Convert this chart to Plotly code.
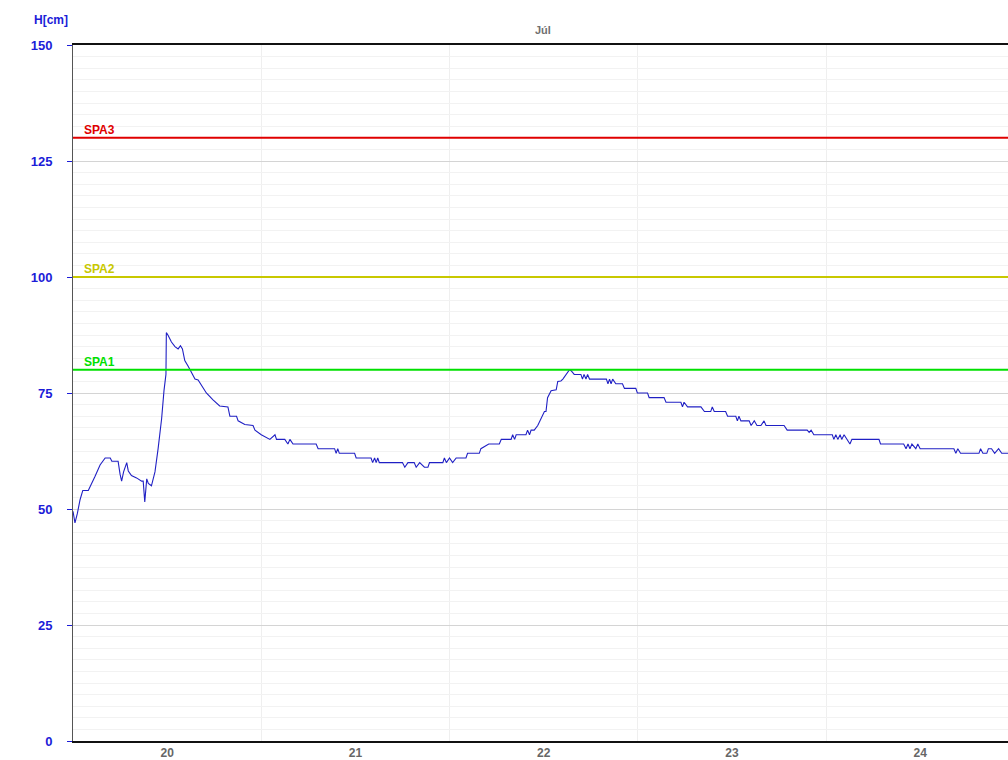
import plotly.graph_objects as go

# Water level, hours counted from 20 July 00:00
hours = [
    0.0, 0.25, 0.55, 0.9, 1.25, 1.95, 2.8, 3.45, 4.1, 4.75, 4.95, 5.75, 6.0, 6.2, 6.45,
    6.85, 7.05, 7.45, 8.1, 8.75, 8.95, 9.15, 9.4, 9.6, 10.0, 10.45, 10.85, 11.3, 11.6,
    11.85, 11.9, 12.1, 12.55, 13.0, 13.4, 13.7, 13.95, 14.25, 14.7, 15.1, 15.55, 15.95,
    16.4, 17.0, 17.85, 18.7, 19.75, 20.0, 20.85, 21.05, 21.9, 22.95, 23.2, 24.0, 25.1,
    25.75, 25.95, 27.0, 27.4, 27.65, 28.05, 31.0, 31.25, 33.35, 33.55, 33.75, 33.95,
    35.9, 36.1, 38.0, 38.2, 38.45, 38.65, 38.85, 39.05, 42.0, 42.3, 42.7, 43.5, 43.75,
    44.2, 44.8, 45.25, 45.45, 47.15, 47.35, 47.6, 48.0, 48.4, 48.85, 50.1, 50.3, 51.8,
    52.0, 53.0, 54.35, 54.6, 55.85, 56.05, 56.3, 56.5, 57.75, 57.95, 58.2, 58.4, 58.8,
    59.25, 59.65, 60.1, 60.3, 60.5, 60.95, 61.6, 61.8, 62.2, 62.45, 62.85, 63.3, 63.5,
    63.9, 64.75, 64.95, 65.15, 65.4, 65.6, 65.85, 68.0, 68.2, 68.4, 68.6, 68.8, 69.2,
    70.05, 70.3, 71.75, 71.95, 73.25, 73.45, 75.35, 75.6, 77.5, 77.7, 77.9, 78.35,
    80.05, 80.5, 81.3, 81.5, 81.75, 83.2, 83.45, 84.5, 84.7, 84.9, 85.15, 86.2, 86.45,
    86.85, 87.2, 87.7, 88.1, 88.35, 90.65, 91.05, 93.6, 93.85, 94.1, 94.45, 96.8, 97.0,
    97.25, 97.5, 97.8, 98.0, 98.3, 98.7, 99.05, 99.3, 102.75, 102.95, 105.9, 106.2,
    106.45, 106.7, 106.95, 107.45, 107.7, 108.0, 109.75, 112.3, 112.55, 112.8, 113.15,
    115.5, 115.7, 116.0, 116.5, 116.7, 117.1, 117.5, 118.0, 118.4, 119.2,
]
level_cm = [
    49.5, 47, 49, 52, 54, 54, 57, 59.5, 61, 61, 60.3, 60.3, 57.5, 56, 58,
    60, 58.2, 57.2, 56.7, 56, 56, 51.5, 56.5, 55.5, 55, 58, 63, 69.5, 75.5,
    79, 88, 87.5, 86, 85, 84.5, 85.2, 84.5, 82, 80.7, 79.3, 78, 77.8,
    76.5, 75, 73.5, 72.2, 72, 70, 70, 69, 68.2, 68, 67, 66, 65,
    66, 65, 65, 64, 65, 64, 64, 63, 63, 62, 63, 62,
    62, 61, 61, 60, 61, 60, 61, 60, 60, 59, 60, 60, 59,
    60, 59, 59, 60, 60, 61, 60, 61, 60, 61, 61, 62, 62,
    63, 64, 64, 65, 65, 66, 65, 66, 66, 67, 66, 67, 67,
    68, 69.5, 71, 71, 74, 75.5, 75.7, 77.5, 77.6, 78, 79, 80, 79.8,
    79, 79, 78, 79, 78, 79, 78, 78, 77, 78, 77, 78, 77,
    77, 76, 76, 75, 75, 74, 74, 73, 73, 72, 73, 72,
    72, 71, 71, 72, 71, 71, 70, 70, 69, 70, 69, 69, 68,
    69, 68, 68, 69, 68, 68, 67, 67, 66.5, 67, 66, 66, 65,
    66, 65, 66, 65, 66, 65, 64, 65, 65, 64, 64, 63,
    64, 63, 64, 63, 64, 63, 63, 63, 62, 63, 62,
    62, 63, 62, 62, 63, 63, 62, 63, 62, 62,
]

# Alert levels
spa_names = ["SPA1", "SPA2", "SPA3"]
spa_levels = [80, 100, 130]
spa_colors = ["#00e000", "#c8c800", "#e00000"]

# Day labels sit at noon, day boundaries get a grid line
day_labels = ["20", "21", "22", "23", "24"]
day_label_hours = [12, 36, 60, 84, 108]
day_boundaries = [24, 48, 72, 96]

y_ticks = [0, 25, 50, 75, 100, 125, 150]

fig = go.Figure()

fig.add_trace(go.Scatter(
    x=hours, y=level_cm, mode="lines",
    line=dict(color="#2020c4", width=1.1),
    hoverinfo="skip", showlegend=False,
))

for name, lvl, col in zip(spa_names, spa_levels, spa_colors):
    fig.add_hline(y=lvl, line=dict(color=col, width=2), layer="above")
    fig.add_annotation(
        x=1.2, y=lvl, xref="x", yref="y", text=f"<b>{name}</b>",
        showarrow=False, xanchor="left", yanchor="bottom", yshift=-1,
        font=dict(family="Liberation Sans, Arial", size=12, color=col),
    )

fig.add_annotation(
    x=-0.024, y=1.036, xref="paper", yref="paper", text="<b>H[cm]</b>",
    showarrow=False, xanchor="center", yanchor="middle",
    font=dict(family="Liberation Sans, Arial", size=12, color="#1c1cd8"),
)
fig.add_annotation(
    x=0.503, y=1.022, xref="paper", yref="paper", text="<b>Júl</b>",
    showarrow=False, xanchor="center", yanchor="middle",
    font=dict(family="Liberation Sans, Arial", size=11, color="#707070"),
)

fig.update_layout(
    width=1008, height=760,
    margin=dict(l=73, r=0, t=45, b=14),
    paper_bgcolor="white", plot_bgcolor="white",
    xaxis=dict(
        range=[0, 119.2], tickmode="array", tickvals=day_label_hours,
        ticktext=[f"<b>{d}</b>" for d in day_labels],
        showgrid=False, zeroline=False, ticks="",
        showline=True, linecolor="#111111", linewidth=2, mirror=True,
        tickfont=dict(family="Liberation Sans, Arial", size=12, color="#666666"),
        minor=dict(tickvals=day_boundaries, showgrid=True, gridcolor="#efefef",
                   gridwidth=1, ticks=""),
    ),
    yaxis=dict(
        range=[0, 150], tickmode="array", tickvals=y_ticks,
        ticktext=[f"<b>{v}</b>" for v in y_ticks],
        showgrid=True, gridcolor="#d4d4d4", gridwidth=1, zeroline=False,
        ticks="outside", ticklen=5, tickcolor="#1c1cd8", tickwidth=1,
        ticklabelstandoff=12,
        showline=True, linecolor="#555555", linewidth=1,
        tickfont=dict(family="Liberation Sans, Arial", size=13, color="#1c1cd8"),
        minor=dict(dtick=2.5, tick0=0, showgrid=True, gridcolor="#f2f2f2",
                   gridwidth=1, ticks=""),
    ),
)

fig.write_html("out.html")
